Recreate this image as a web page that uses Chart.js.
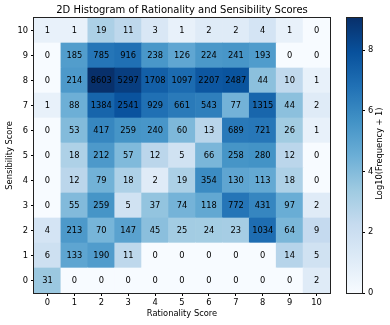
<!DOCTYPE html>
<html>
<head>
<meta charset="utf-8">
<script src="https://cdn.jsdelivr.net/npm/chart.js@4/dist/chart.umd.min.js"></script>
<style>
  html, body { margin: 0; padding: 0; background: #fff; }
  #wrap { position: relative; width: 390px; height: 325px; }
  #main { position: absolute; left: 0; top: 0; }
  #bar { position: absolute; left: 330px; top: 0; }
</style>
</head>
<body>
<div id="wrap">
  <canvas id="main" width="390" height="325"></canvas>
  <canvas id="bar" width="60" height="325"></canvas>
</div>
<script>
const rationality = ['0', '1', '2', '3', '4', '5', '6', '7', '8', '9', '10'];
const sensibility = [0, 1, 2, 3, 4, 5, 6, 7, 8, 9, 10];

// counts[s][r] : row = sensibility score, column = rationality score
const row0  = [31, 0, 0, 0, 0, 0, 0, 0, 0, 0, 2];
const row1  = [6, 133, 190, 11, 0, 0, 0, 0, 0, 14, 5];
const row2  = [4, 213, 70, 147, 45, 25, 24, 23, 1034, 64, 9];
const row3  = [0, 55, 259, 5, 37, 74, 118, 772, 431, 97, 2];
const row4  = [0, 12, 79, 18, 2, 19, 354, 130, 113, 18, 0];
const row5  = [0, 18, 212, 57, 12, 5, 66, 258, 280, 12, 0];
const row6  = [0, 53, 417, 259, 240, 60, 13, 689, 721, 26, 1];
const row7  = [1, 88, 1384, 2541, 929, 661, 543, 77, 1315, 44, 2];
const row8  = [0, 214, 8603, 5297, 1708, 1097, 2207, 2487, 44, 10, 1];
const row9  = [0, 185, 785, 916, 238, 126, 224, 241, 193, 0, 0];
const row10 = [1, 1, 19, 11, 3, 1, 2, 2, 4, 1, 0];
const counts = [row0, row1, row2, row3, row4, row5, row6, row7, row8, row9, row10];

const cbTicks = [0, 2, 4, 6, 8];

const blues = ['#f7fbff', '#deebf7', '#c6dbef', '#9ecae1', '#6baed6', '#4292c6', '#2171b5', '#08519c', '#08306b'];
const vmax = Math.log(8603 + 1);

function hexToRgb(h) {
    return [parseInt(h.slice(1, 3), 16), parseInt(h.slice(3, 5), 16), parseInt(h.slice(5, 7), 16)];
}

function bluesColor(t) {
    t = Math.max(0, Math.min(1, t));
    const pos = t * (blues.length - 1);
    const i = Math.min(Math.floor(pos), blues.length - 2);
    const f = pos - i;
    const a = hexToRgb(blues[i]);
    const b = hexToRgb(blues[i + 1]);
    const c = a.map((v, k) => Math.round(v + (b[k] - v) * f));
    return 'rgb(' + c.join(',') + ')';
}

const FONT = 'DejaVu Sans';
Chart.defaults.font.family = FONT;
Chart.defaults.color = '#000';

const datasets = sensibility.map(s => ({
    label: 'S' + s,
    data: counts[s].map(() => [s - 0.5, s + 0.5]),
    counts: counts[s],
    backgroundColor: counts[s].map(c => bluesColor(Math.log(c + 1) / vmax)),
    borderWidth: 0,
    grouped: false,
    categoryPercentage: 1,
    barPercentage: 1
}));

// numbers inside the cells
const cellText = {
    id: 'cellText',
    afterDatasetsDraw(chart) {
        const ctx = chart.ctx;
        ctx.save();
        ctx.font = '8.3px "' + FONT + '"';
        ctx.fillStyle = '#000';
        ctx.textAlign = 'center';
        ctx.textBaseline = 'middle';
        chart.data.datasets.forEach((ds, i) => {
            chart.getDatasetMeta(i).data.forEach((el, j) => {
                ctx.fillText(String(ds.counts[j]), el.x, (el.y + el.base) / 2 + 0.5);
            });
        });
        ctx.restore();
    }
};

const frame = {
    id: 'frame',
    afterDraw(chart) {
        const a = chart.chartArea;
        const ctx = chart.ctx;
        ctx.save();
        ctx.strokeStyle = '#222';
        ctx.lineWidth = 1;
        ctx.strokeRect(Math.round(a.left) - 0.5, Math.round(a.top) - 0.5,
            Math.round(a.right - a.left) + 1, Math.round(a.bottom - a.top) + 1);
        ctx.restore();
    }
};

new Chart(document.getElementById('main'), {
    type: 'bar',
    data: { labels: rationality, datasets: datasets },
    options: {
        responsive: false,
        animation: false,
        events: [],
        layout: { padding: { left: 0, right: 60, top: 0, bottom: 0 } },
        plugins: {
            legend: { display: false },
            tooltip: { enabled: false },
            title: {
                display: true,
                text: '2D Histogram of Rationality and Sensibility Scores',
                fullSize: false,
                color: '#000',
                font: { size: 10, weight: 'normal' },
                padding: { top: 4, bottom: 2 }
            }
        },
        scales: {
            x: {
                type: 'category',
                offset: true,
                grid: { offset: false, drawOnChartArea: false, drawTicks: true, tickLength: 3, color: '#000' },
                border: { display: false },
                ticks: { font: { size: 8.3 }, padding: 2, maxRotation: 0, autoSkip: false },
                title: { display: true, text: 'Rationality Score', font: { size: 8.3 }, padding: { top: 2, bottom: 6 } },
                afterFit(scale) { scale.height = 32; }
            },
            y: {
                type: 'linear',
                min: -0.5,
                max: 10.5,
                grid: { drawOnChartArea: false, drawTicks: true, tickLength: 3, color: '#000' },
                border: { display: false },
                afterBuildTicks(scale) { scale.ticks = sensibility.map(v => ({ value: v })); },
                ticks: { font: { size: 8.3 }, padding: 3 },
                title: { display: true, text: 'Sensibility Score', font: { size: 8.3 }, padding: { top: 5, bottom: 2 } },
                afterFit(scale) { scale.width = 34; }
            }
        }
    },
    plugins: [cellText, frame]
});

// colorbar
const cbTitle = {
    id: 'cbTitle',
    afterDraw(chart) {
        const a = chart.chartArea;
        const ctx = chart.ctx;
        ctx.save();
        ctx.translate(50, (a.top + a.bottom) / 2 - 2);
        ctx.rotate(-Math.PI / 2);
        ctx.font = '8.3px "' + FONT + '"';
        ctx.fillStyle = '#000';
        ctx.textAlign = 'center';
        ctx.textBaseline = 'middle';
        ctx.fillText('Log10(Frequency + 1)', 0, 0);
        ctx.restore();
    }
};

new Chart(document.getElementById('bar'), {
    type: 'bar',
    data: {
        labels: ['c'],
        datasets: [{
            data: [[0, vmax]],
            borderWidth: 0,
            categoryPercentage: 1,
            barPercentage: 1,
            backgroundColor(ctx) {
                const a = ctx.chart.chartArea;
                if (!a) return blues[4];
                const g = ctx.chart.ctx.createLinearGradient(0, a.bottom, 0, a.top);
                blues.forEach((c, i) => g.addColorStop(i / (blues.length - 1), c));
                return g;
            }
        }]
    },
    options: {
        responsive: false,
        animation: false,
        events: [],
        layout: { padding: { left: 17, right: 0, top: 18, bottom: 32 } },
        plugins: { legend: { display: false }, tooltip: { enabled: false } },
        scales: {
            x: { display: false, offset: true },
            y: {
                position: 'right',
                min: 0,
                max: vmax,
                grid: { drawOnChartArea: false, drawTicks: true, tickLength: 3, color: '#000' },
                border: { display: false },
                afterBuildTicks(scale) { scale.ticks = cbTicks.map(v => ({ value: v })); },
                ticks: { font: { size: 8.3 }, padding: 3 },
                afterFit(scale) { scale.width = 28; }
            }
        }
    },
    plugins: [frame, cbTitle]
});
</script>
</body>
</html>
